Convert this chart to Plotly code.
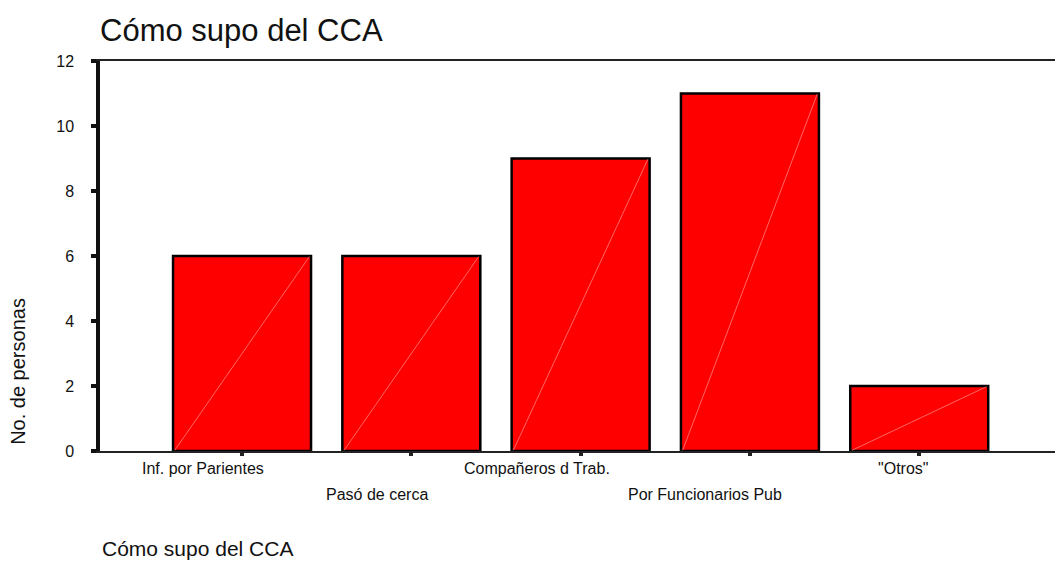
import plotly.graph_objects as go

# Survey counts: how respondents heard about the CCA
categories = ["Inf. por Parientes", "Pasó de cerca", "Compañeros d Trab.",
              "Por Funcionarios Pub", "\"Otros\""]
counts = [6, 6, 9, 11, 2]
label_rows = [0, 1, 0, 1, 0]          # staggered category labels
label_shift = [-39, -34, -44, -45, -16]
y_ticks = [0, 2, 4, 6, 8, 10, 12]

FONT = "Liberation Sans, Arial, sans-serif"
BAR_W = 0.815
idx = list(range(len(categories)))

fig = go.Figure()
fig.add_trace(go.Bar(
    x=idx, y=counts, width=BAR_W,
    marker=dict(color="#ff0000", line=dict(color="#000000", width=2.5)),
    hoverinfo="skip", showlegend=False,
))

# faint diagonal running corner to corner inside each bar
for i, v in zip(idx, counts):
    fig.add_trace(go.Scatter(
        x=[i - BAR_W / 2 + 0.01, i + BAR_W / 2 - 0.01], y=[0.02, v - 0.02],
        mode="lines", line=dict(color="rgba(255,170,170,0.75)", width=0.8),
        hoverinfo="skip", showlegend=False,
    ))

# staggered category labels
for i, name, row, dx in zip(idx, categories, label_rows, label_shift):
    fig.add_annotation(
        x=i, y=-0.045 - 0.067 * row, xref="x", yref="paper",
        text=name, showarrow=False, xshift=dx, yanchor="middle",
        font=dict(family=FONT, size=16, color="#111111"),
    )

# y-axis title
fig.add_annotation(
    x=-0.086, y=(451 - 371) / 390, xref="paper", yref="paper",
    text="No. de personas", textangle=-90, showarrow=False,
    xanchor="center", yanchor="middle",
    font=dict(family=FONT, size=20, color="#111111"),
)

# variable name under the chart
fig.add_annotation(
    x=0, y=-0.25, xref="paper", yref="paper",
    text="Cómo supo del CCA", showarrow=False,
    xanchor="left", yanchor="middle",
    font=dict(family=FONT, size=21, color="#111111"),
)

fig.update_layout(
    width=1055, height=561,
    margin=dict(l=100, r=0, t=61, b=110),
    paper_bgcolor="white", plot_bgcolor="white",
    title=dict(text="Cómo supo del CCA", x=100 / 1055, xanchor="left",
               y=1 - 30 / 561, yanchor="middle",
               font=dict(family=FONT, size=31, color="#111111")),
    xaxis=dict(
        range=[-0.839, 4.802], tickvals=idx, showticklabels=False,
        ticks="outside", ticklen=3, tickwidth=4, tickcolor="#222222",
        showline=True, linecolor="#222222", linewidth=1.5, mirror=True,
        showgrid=False, zeroline=False, fixedrange=True,
    ),
    yaxis=dict(
        range=[0, 12], tickvals=y_ticks, ticks="outside", ticklen=5,
        tickwidth=4, tickcolor="#111111", ticklabelstandoff=14,
        showline=True, linecolor="#111111", linewidth=3.5,
        showgrid=False, zeroline=False, fixedrange=True,
        tickfont=dict(family=FONT, size=16, color="#111111"),
    ),
)

fig.write_html("out.html")
